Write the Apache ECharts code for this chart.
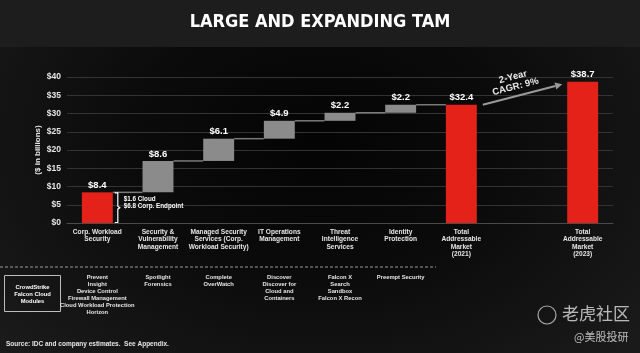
<!DOCTYPE html>
<html lang="en">
<head>
    <meta charset="UTF-8">
    <title>Large and expanding TAM</title>
    <script type="text/javascript" src="https://cdn.jsdelivr.net/npm/echarts@6/dist/echarts.min.js"></script>
    <style>
        html, body { margin: 0; padding: 0; background: #1a1a1a; }
        #main {
            width: 640px; height: 353px;
            background:
                linear-gradient(#1d1d1d, #1d1d1d) top / 100% 47px no-repeat,
                radial-gradient(ellipse 65% 85% at 50% 40%, #040404 0%, #0b0b0b 45%, #1a1a1a 100%);
        }
    </style>
</head>
<body>
<div id="main"></div>

<script>
    // categories along the x axis (index 7 is the empty gap before 2023)
    var categories = [
        'Corp. Workload\nSecurity',
        'Security &\nVulnerability\nManagement',
        'Managed Security\nServices (Corp.\nWorkload Security)',
        'IT Operations\nManagement',
        'Threat\nIntelligence\nServices',
        'Identity\nProtection',
        'Total\nAddressable\nMarket\n(2021)',
        ' ',
        'Total\nAddressable\nMarket\n(2023)'
    ];
    // segment sizes ($ billions); totals are full bars
    var values = [8.4, 8.6, 6.1, 4.9, 2.2, 2.2, 32.4, '-', 38.7];
    var isTotal = [false, false, false, false, false, false, true, false, true];
    var valueLabels = ['$8.4', '$8.6', '$6.1', '$4.9', '$2.2', '$2.2', '$32.4', '', '$38.7'];
    var modules = [
        'Prevent\nInsight\nDevice Control\nFirewall Management\nCloud Workload Protection\nHorizon',
        'Spotlight\nForensics',
        'Complete\nOverWatch',
        'Discover\nDiscover for\nCloud and\nContainers',
        'Falcon X\nSearch\nSandbox\nFalcon X Recon',
        'Preempt Security',
        '', '', ''
    ];
    var yTicks = [0, 5, 10, 15, 20, 25, 30, 35, 40];

    var RED = '#e4221a';
    var GREY = '#8b8b8b';
    var FONT = '"Liberation Sans", Arial, sans-serif';

    // waterfall bases from the running sum
    var bases = [];
    var connectors = [];
    var run = 0;
    for (var i = 0; i < values.length; i++) {
        if (values[i] === '-') { bases.push('-'); continue; }
        if (isTotal[i]) {
            bases.push(0);
        } else {
            bases.push(+run.toFixed(1));
            run += values[i];
            connectors.push([i, +run.toFixed(1)]);
        }
    }

    var myChart = echarts.init(document.getElementById('main'));

    option = {
        backgroundColor: 'transparent',
        animation: false,
        title: {
            text: 'LARGE AND EXPANDING TAM',
            left: 'center',
            top: 8,
            textStyle: {
                color: '#ffffff',
                fontSize: 18,
                fontWeight: 'bold',
                fontFamily: '"Liberation Sans Narrow", "DejaVu Sans Condensed", sans-serif'
            }
        },
        grid: {
            left: 67,
            right: 27,
            top: 77,
            bottom: 130
        },
        xAxis: [{
            type: 'category',
            data: categories,
            axisLine: {lineStyle: {color: '#4a4a4a'}},
            axisTick: {show: false},
            axisLabel: {
                interval: 0,
                color: '#e6e6e6',
                fontSize: 6.6,
                lineHeight: 7.6,
                fontWeight: 'bold',
                fontFamily: FONT,
                margin: 5
            }
        }, {
            type: 'category',
            data: categories,
            position: 'bottom',
            offset: 51,
            axisLine: {show: false},
            axisTick: {show: false},
            axisLabel: {
                interval: 0,
                color: '#e6e6e6',
                fontSize: 5.8,
                lineHeight: 7,
                fontWeight: 'bold',
                fontFamily: FONT,
                margin: 0,
                formatter: function (v, idx) { return modules[idx]; }
            }
        }],
        yAxis: {
            type: 'value',
            min: 0,
            max: 40,
            interval: 5,
            name: '($ in billions)',
            nameLocation: 'middle',
            nameGap: 25,
            nameMoveOverlap: false,
            nameTextStyle: {color: '#e6e6e6', fontSize: 8, fontWeight: 'bold', fontFamily: FONT},
            axisLine: {show: false},
            axisTick: {show: false},
            splitLine: {lineStyle: {color: '#333333', width: 1}},
            axisLabel: {
                color: '#e6e6e6',
                fontSize: 8.5,
                fontWeight: 'bold',
                fontFamily: FONT,
                margin: 6,
                formatter: function (v) { return yTicks.indexOf(v) >= 0 ? '$' + v : ''; }
            }
        },
        series: [
            {
                name: 'base',
                type: 'bar',
                stack: 'w',
                barWidth: '51%',
                itemStyle: {color: 'transparent'},
                emphasis: {disabled: true},
                data: bases
            },
            {
                name: 'value',
                type: 'bar',
                stack: 'w',
                barWidth: '51%',
                data: values.map(function (v, idx) {
                    return {
                        value: v,
                        itemStyle: {color: (idx === 0 || isTotal[idx]) ? RED : GREY}
                    };
                }),
                label: {
                    show: true,
                    position: 'top',
                    distance: 2,
                    color: '#ffffff',
                    fontSize: 9.5,
                    fontWeight: 'bold',
                    fontFamily: FONT,
                    formatter: function (p) { return valueLabels[p.dataIndex]; }
                }
            },
            {
                // step lines between bars
                name: 'connectors',
                type: 'custom',
                silent: true,
                z: 1,
                data: connectors,
                renderItem: function (params, api) {
                    var idx = api.value(0);
                    var lvl = api.value(1);
                    var half = api.size([1, 0])[0] * 0.255;
                    var a = api.coord([idx, lvl]);
                    var b = api.coord([idx + 1, lvl]);
                    return {
                        type: 'line',
                        shape: {x1: a[0] + half, y1: a[1], x2: b[0] - half, y2: b[1]},
                        style: {stroke: '#7a7a7a', lineWidth: 1.5}
                    };
                }
            },
            {
                // bracket next to first bar and CAGR arrow
                name: 'notes',
                type: 'custom',
                silent: true,
                z: 3,
                data: [[0, values[0], 6, values[6], 8, values[8]]],
                renderItem: function (params, api) {
                    var cw = api.size([1, 0])[0];
                    var half = cw * 0.255;
                    var top = api.coord([api.value(0), api.value(1)]);
                    var bot = api.coord([api.value(0), 0]);
                    var bx = top[0] + half + 5;
                    var mid = (top[1] + bot[1]) / 2;

                    var s = api.coord([api.value(2), api.value(3)]);
                    var e = api.coord([api.value(4), api.value(5)]);
                    var x1 = s[0] + half + 6, y1 = s[1];
                    var x2 = e[0] - half - 5, y2 = e[1] + 2.5;
                    var ang = Math.atan2(y2 - y1, x2 - x1);
                    var hl = 7, hw = 3.5;
                    var hx = x2 - hl * Math.cos(ang), hy = y2 - hl * Math.sin(ang);
                    var mx = (x1 + x2) / 2, my = (y1 + y2) / 2;

                    return {
                        type: 'group',
                        children: [
                            {
                                type: 'polyline',
                                shape: {points: [[bx - 3, top[1] + 0.5], [bx, top[1] + 0.5], [bx, mid - 1.5], [bx + 2, mid], [bx, mid + 1.5], [bx, bot[1] - 0.5], [bx - 3, bot[1] - 0.5]]},
                                style: {stroke: '#ffffff', lineWidth: 1.2, fill: null}
                            },
                            {
                                type: 'text',
                                style: {
                                    x: bx + 6, y: mid - 5,
                                    text: '$1.6 Cloud\n$6.8 Corp. Endpoint',
                                    fill: '#ffffff',
                                    font: 'bold 6.3px ' + FONT,
                                    lineHeight: 7.5,
                                    verticalAlign: 'middle'
                                }
                            },
                            {
                                type: 'line',
                                shape: {x1: x1, y1: y1, x2: hx, y2: hy},
                                style: {stroke: '#9a9a9a', lineWidth: 2}
                            },
                            {
                                type: 'polygon',
                                shape: {points: [
                                    [x2, y2],
                                    [hx - hw * Math.sin(ang), hy + hw * Math.cos(ang)],
                                    [hx + hw * Math.sin(ang), hy - hw * Math.cos(ang)]
                                ]},
                                style: {fill: '#9a9a9a'}
                            },
                            {
                                type: 'text',
                                x: mx - 5 + 13 * Math.sin(ang),
                                y: my - 13 * Math.cos(ang),
                                rotation: -ang,
                                style: {
                                    x: 0, y: 0,
                                    text: '2-Year\nCAGR: 9%',
                                    fill: '#e8e8e8',
                                    font: 'bold 9.5px ' + FONT,
                                    lineHeight: 10,
                                    align: 'center',
                                    verticalAlign: 'middle'
                                }
                            }
                        ]
                    };
                }
            }
        ],
        graphic: [
            {
                type: 'line',
                shape: {x1: 0, y1: 267, x2: 436, y2: 267},
                style: {stroke: '#9a9a9a', lineWidth: 1, lineDash: [3, 2]}
            },
            {
                type: 'rect',
                shape: {x: 4.5, y: 275.5, width: 56, height: 36},
                style: {fill: null, stroke: '#bdbdbd', lineWidth: 1}
            },
            {
                type: 'text',
                x: 32.5, y: 294,
                style: {
                    text: 'CrowdStrike\nFalcon Cloud\nModules',
                    fill: '#ffffff',
                    font: 'bold 5.8px ' + FONT,
                    lineHeight: 7,
                    align: 'center',
                    verticalAlign: 'middle'
                }
            },
            {
                type: 'text',
                left: 6, top: 341,
                style: {
                    text: 'Source: IDC and company estimates.  See Appendix.',
                    fill: '#e6e6e6',
                    font: 'bold 6.5px ' + FONT
                }
            },
            {
                type: 'circle',
                shape: {cx: 547, cy: 315, r: 9},
                style: {fill: null, stroke: 'rgba(220,220,220,0.75)', lineWidth: 1.2}
            },
            {
                type: 'text',
                left: 562, top: 305,
                style: {
                    text: '老虎社区',
                    fill: 'rgba(225,225,225,0.8)',
                    font: '17px "Noto Sans CJK SC", sans-serif'
                }
            },
            {
                type: 'text',
                left: 574, top: 331,
                style: {
                    text: '@美股投研',
                    fill: 'rgba(225,225,225,0.8)',
                    font: '11px "Noto Sans CJK SC", sans-serif'
                }
            }
        ]
    };

    myChart.setOption(option);
</script>
</body>
</html>
